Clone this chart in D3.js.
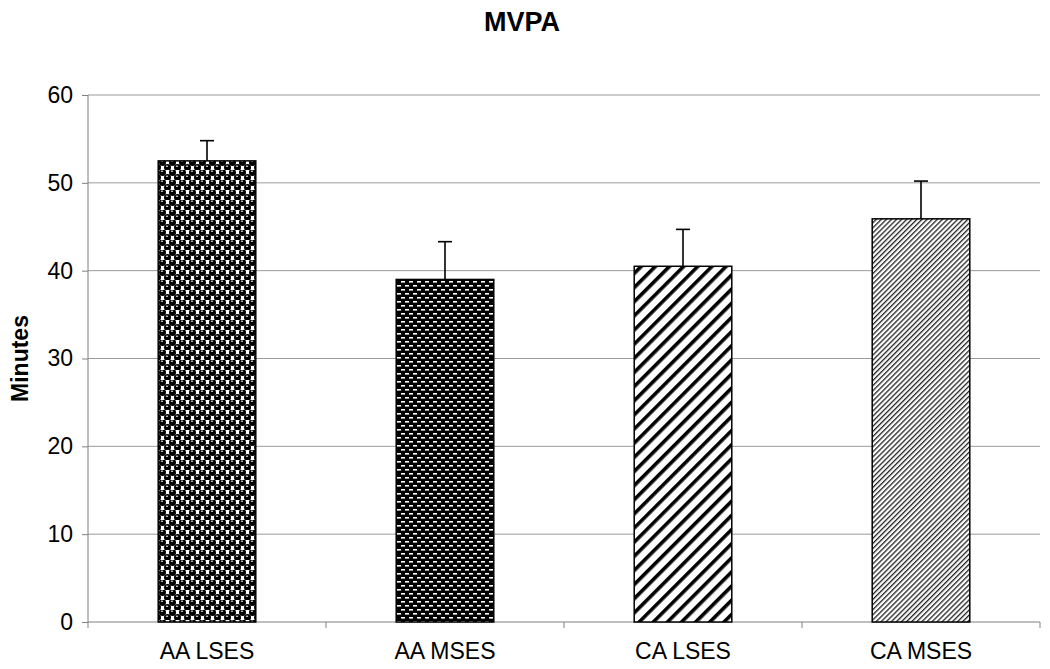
<!DOCTYPE html>
<html><head><meta charset="utf-8">
<script src="https://cdn.jsdelivr.net/npm/d3@7"></script>
<style>body{margin:0;background:#fff;} svg{display:block;font-family:Arial,"Liberation Sans",sans-serif;}</style>
</head><body>
<svg id="c" width="1050" height="669"></svg>
<script>
const categories = ["AA LSES","AA MSES","CA LSES","CA MSES"];
const means = [52.5, 39.0, 40.5, 45.9];
const errors = [2.3, 4.3, 4.2, 4.3];
const yTicks = [0,10,20,30,40,50,60];
const patternIds = ["pSphere","pBrick","pWide","pThin"];

const svg = d3.select("#c");
const W=1050,H=669;
const m={left:88,right:10,top:95,bottom:47};
const x = d3.scaleBand().domain(categories).range([m.left, W-m.right]).paddingInner(0.59).paddingOuter(0.295);
const y = d3.scaleLinear().domain([0,60]).range([H-m.bottom, m.top]);

const defs = svg.append("defs");
// sphere checker
let p = defs.append("pattern").attr("id","pSphere").attr("patternUnits","userSpaceOnUse").attr("width",10).attr("height",10);
p.append("rect").attr("width",10).attr("height",10).attr("fill","#fff");
[[2.5,2.5],[7.5,7.5],[-2.5,7.5],[12.5,2.5]].forEach(([cx,cy])=>{
  p.append("circle").attr("cx",cx).attr("cy",cy).attr("r",3.5).attr("fill","#000");
});
[[2.5,2.5],[7.5,7.5]].forEach(([cx,cy])=>{
  p.append("rect").attr("x",cx-1.6).attr("y",cy-1.8).attr("width",2.2).attr("height",1).attr("fill","#fff");
});
// brick dashes
p = defs.append("pattern").attr("id","pBrick").attr("patternUnits","userSpaceOnUse").attr("width",8).attr("height",8);
p.append("rect").attr("width",8).attr("height",8).attr("fill","#000");
p.append("rect").attr("x",1).attr("y",1).attr("width",4).attr("height",1.6).attr("fill","#fff");
p.append("rect").attr("x",5).attr("y",5).attr("width",4).attr("height",1.6).attr("fill","#fff");
p.append("rect").attr("x",-3).attr("y",5).attr("width",4).attr("height",1.6).attr("fill","#fff");
// wide diagonal
p = defs.append("pattern").attr("id","pWide").attr("patternUnits","userSpaceOnUse").attr("width",10).attr("height",10).attr("patternTransform","rotate(45)");
p.append("rect").attr("width",10).attr("height",10).attr("fill","#fff");
p.append("rect").attr("x",0).attr("y",0).attr("width",3.6).attr("height",10).attr("fill","#000");
// thin diagonal
p = defs.append("pattern").attr("id","pThin").attr("patternUnits","userSpaceOnUse").attr("width",3.6).attr("height",3.6).attr("patternTransform","rotate(45)");
p.append("rect").attr("width",3.6).attr("height",3.6).attr("fill","#fff");
p.append("rect").attr("x",0).attr("y",0).attr("width",1.3).attr("height",3.6).attr("fill","#222");

// gridlines
svg.append("g").selectAll("line").data(yTicks.filter(d=>d>0)).join("line")
  .attr("x1",m.left).attr("x2",W-m.right).attr("y1",d=>y(d)).attr("y2",d=>y(d))
  .attr("stroke","#9a9a9a").attr("stroke-width",1);

// y axis
const ya = svg.append("g").attr("transform",`translate(${m.left},0)`)
  .call(d3.axisLeft(y).tickValues(yTicks).tickSize(6).tickPadding(9));
ya.select(".domain").attr("stroke","#808080").attr("d",`M0,${y(0)}V${m.top}`);
ya.selectAll(".tick line").attr("stroke","#808080");
ya.selectAll("text").attr("font-size",23).attr("fill","#000").attr("font-family","Arial,'Liberation Sans',sans-serif");

// x axis
const xa = svg.append("g").attr("transform",`translate(0,${y(0)})`)
  .call(d3.axisBottom(x).tickSize(0).tickPadding(21));
xa.select(".domain").attr("stroke","#808080").attr("d",`M${m.left},0H${W-m.right}`);
xa.selectAll("text").attr("font-size",23).attr("fill","#000").attr("font-family","Arial,'Liberation Sans',sans-serif");
const seps = d3.range(categories.length+1).map(i=>m.left + i*(W-m.right-m.left)/categories.length);
svg.append("g").selectAll("line").data(seps).join("line")
  .attr("x1",d=>d).attr("x2",d=>d).attr("y1",y(0)).attr("y2",y(0)+6).attr("stroke","#808080");

// error bars
const eb = svg.append("g");
categories.forEach((c,i)=>{
  const cx = x(c)+x.bandwidth()/2;
  eb.append("line").attr("x1",cx).attr("x2",cx).attr("y1",y(means[i])).attr("y2",y(means[i]+errors[i])).attr("stroke","#000").attr("stroke-width",1.6);
  eb.append("line").attr("x1",cx-7).attr("x2",cx+7).attr("y1",y(means[i]+errors[i])).attr("y2",y(means[i]+errors[i])).attr("stroke","#000").attr("stroke-width",1.6);
});

// bars
svg.append("g").selectAll("rect").data(categories).join("rect")
  .attr("x",d=>x(d)).attr("width",x.bandwidth())
  .attr("y",(d,i)=>y(means[i])).attr("height",(d,i)=>y(0)-y(means[i]))
  .attr("fill",(d,i)=>`url(#${patternIds[i]})`).attr("stroke","#000").attr("stroke-width",1.5);

// title
svg.append("text").attr("x",522).attr("y",31).attr("text-anchor","middle")
  .attr("font-size",27).attr("font-weight","bold").text("MVPA");
svg.append("text").attr("transform",`translate(28,${(y(0)+m.top)/2}) rotate(-90)`).attr("text-anchor","middle")
  .attr("font-size",23).attr("font-weight","bold").text("Minutes");
</script>
</body></html>
